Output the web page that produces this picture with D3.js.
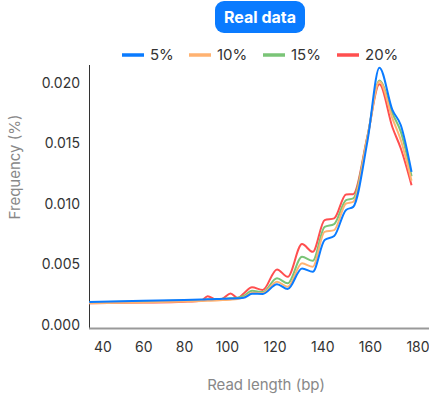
<!DOCTYPE html>
<html>
<head>
<meta charset="utf-8">
<script src="https://cdn.jsdelivr.net/npm/d3@7"></script>
<style>
  body { margin: 0; background: #fff; }
  svg { display: block; font-family: Inter, "Noto Sans", sans-serif; }
</style>
</head>
<body>
<svg width="429" height="398"></svg>
<script>
// read length (bp) sample points
const readLength = [33.5, 60, 80, 88, 91, 95, 98, 101.5, 104.5, 107, 110.5, 115, 121, 125.5,
                    131.5, 136, 141, 145, 150, 153, 159, 164, 169.5, 173, 177.5];
const freq5  = [0.00190, 0.00200, 0.00206, 0.00210, 0.00212, 0.00214, 0.00216, 0.00218, 0.00221, 0.00224,
                0.00258, 0.00256, 0.00336, 0.00297, 0.00467, 0.00439, 0.00701, 0.00734, 0.00950, 0.00975,
                0.01520, 0.02124, 0.01773, 0.01649, 0.01264];
const freq10 = [0.00180, 0.00186, 0.00193, 0.00198, 0.00200, 0.00203, 0.00206, 0.00209, 0.00215, 0.00228,
                0.00266, 0.00262, 0.00357, 0.00316, 0.00509, 0.00481, 0.00769, 0.00783, 0.01003, 0.01017,
                0.01550, 0.02010, 0.01704, 0.01525, 0.01191];
const freq15 = [0.00187, 0.00195, 0.00203, 0.00207, 0.00210, 0.00213, 0.00216, 0.00220, 0.00225, 0.00240,
                0.00283, 0.00272, 0.00385, 0.00344, 0.00563, 0.00530, 0.00810, 0.00833, 0.01030, 0.01045,
                0.01555, 0.02018, 0.01745, 0.01594, 0.01228];
const freq20 = [0.00180, 0.00185, 0.00192, 0.00200, 0.00237, 0.00210, 0.00218, 0.00261, 0.00222, 0.00260,
                0.00311, 0.00289, 0.00459, 0.00398, 0.00668, 0.00604, 0.00866, 0.00880, 0.01078, 0.01080,
                0.01560, 0.01987, 0.01630, 0.01457, 0.01154];
const seriesNames  = ["5%", "10%", "15%", "20%"];
const seriesColors = ["#0a7bff", "#ffb271", "#7ac477", "#ff4f4f"];
const xTicks = [40, 60, 80, 100, 120, 140, 160, 180];
const yTicks = [0, 0.005, 0.010, 0.015, 0.020];

const svg = d3.select("svg");
const allSeries = [freq5, freq10, freq15, freq20];

// x axis spacing in the source is not uniform, so piecewise linear
const x = d3.scaleLinear().domain([40, 80, 100, 180]).range([102.5, 184, 227, 417.5]);
const y = d3.scaleLinear().domain([0, 0.02]).range([325, 82.7]);

// title badge
svg.append("rect")
    .attr("x", 215).attr("y", 1).attr("width", 90).attr("height", 32)
    .attr("rx", 9).attr("fill", "#0a7bff");
svg.append("text")
    .attr("x", 260).attr("y", 17).attr("dy", "0.35em")
    .attr("text-anchor", "middle").attr("fill", "#fff")
    .style("font-size", "16px").style("font-weight", "bold")
    .text("Real data");

// legend
const legendX = [122, 189, 263, 337];
const legend = svg.append("g").selectAll("g")
  .data(seriesNames)
  .enter().append("g")
    .attr("transform", (d, i) => `translate(${legendX[i]},55)`);
legend.append("line")
    .attr("x1", 0).attr("x2", 22)
    .attr("stroke", (d, i) => seriesColors[i]).attr("stroke-width", 3.5);
legend.append("text")
    .attr("x", 28).attr("dy", "0.35em")
    .attr("fill", "#333").style("font-size", "15px")
    .text(d => d);

// axes
svg.append("g")
    .attr("transform", "translate(0,333)")
    .call(d3.axisBottom(x).tickValues(xTicks).tickSize(0).tickPadding(9))
    .call(g => g.select(".domain").remove())
    .selectAll("text").attr("fill", "#333").style("font-size", "14px").style("font-family", "Inter, sans-serif");

svg.append("g")
    .attr("transform", "translate(80,0)")
    .call(d3.axisLeft(y).tickValues(yTicks).tickFormat(d3.format(".3f")).tickSize(0).tickPadding(0))
    .call(g => g.select(".domain").remove())
    .selectAll("text").attr("fill", "#333").style("font-size", "14px").style("font-family", "Inter, sans-serif");

svg.append("line")
    .attr("x1", 89.5).attr("x2", 89.5).attr("y1", 65).attr("y2", 329)
    .attr("stroke", "#333").attr("stroke-width", 1);
svg.append("line")
    .attr("x1", 89).attr("x2", 429).attr("y1", 328.5).attr("y2", 328.5)
    .attr("stroke", "#999").attr("stroke-width", 2);

// axis titles
svg.append("text")
    .attr("x", 266).attr("y", 385).attr("dy", "0.35em")
    .attr("text-anchor", "middle").attr("fill", "#888")
    .style("font-size", "15px")
    .text("Read length (bp)");
svg.append("text")
    .attr("transform", "translate(15,167) rotate(-90)")
    .attr("dy", "0.35em")
    .attr("text-anchor", "middle").attr("fill", "#888")
    .style("font-size", "15px")
    .text("Frequency (%)");

// lines, 20% first so 5% ends up on top
const line = d3.line()
    .x((d, i) => x(readLength[i]))
    .y(d => y(d))
    .curve(d3.curveMonotoneX);

svg.append("g").selectAll("path")
  .data(allSeries.map((s, i) => ({s, i})).reverse())
  .enter().append("path")
    .attr("d", d => line(d.s))
    .attr("fill", "none")
    .attr("stroke", d => seriesColors[d.i])
    .attr("stroke-width", 2);
</script>
</body>
</html>
